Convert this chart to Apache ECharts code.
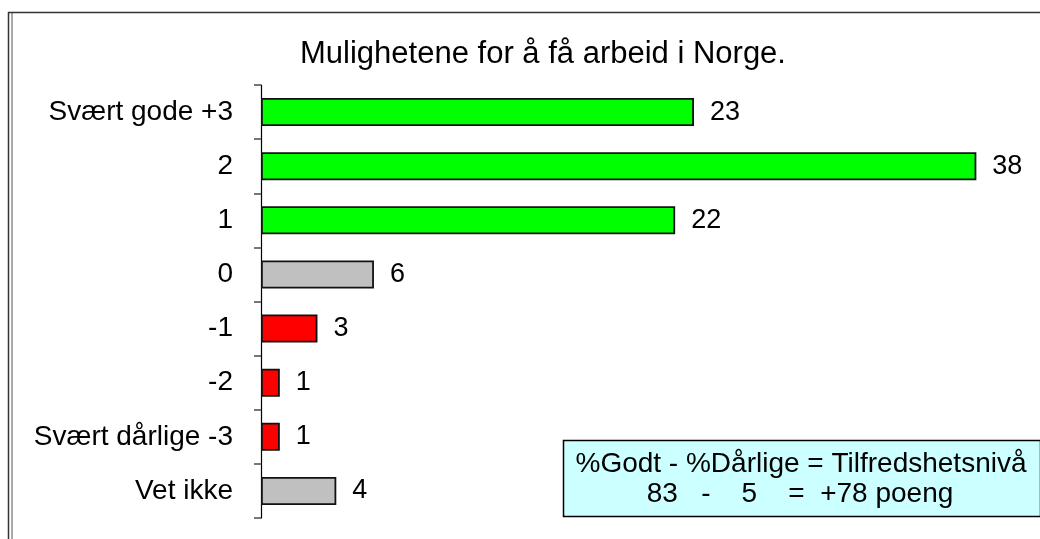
<!DOCTYPE html>
<html>
<head>
<meta charset="utf-8">
<script src="https://cdn.jsdelivr.net/npm/echarts@6/dist/echarts.min.js"></script>
<style>
html,body{margin:0;padding:0;background:#fff;}
#chart{width:1040px;height:539px;}
</style>
</head>
<body>
<div id="chart"></div>
<script>
var titleText = 'Mulighetene for å få arbeid i Norge.';
var categories = ['Svært gode +3', '2', '1', '0', '-1', '-2', 'Svært dårlige -3', 'Vet ikke'];
var values = [23, 38, 22, 6, 3, 1, 1, 4];
var groups = ['good', 'good', 'good', 'neutral', 'bad', 'bad', 'bad', 'neutral'];
var boxLine1 = '%Godt - %Dårlige = Tilfredshetsnivå';
var boxLine2 = '83   -    5    =  +78 poeng';

var groupColors = { good: '#00ff00', neutral: '#c0c0c0', bad: '#ff0000' };
var FONT = '"Liberation Sans", Arial, sans-serif';

var chart = echarts.init(document.getElementById('chart'), null, { renderer: 'canvas' });

var seriesData = values.map(function (v, i) {
  return { value: v, itemStyle: { color: groupColors[groups[i]] } };
});

chart.setOption({
  animation: false,
  backgroundColor: '#ffffff',
  grid: { left: 261, right: 26, top: 85, bottom: 21, containLabel: false },
  xAxis: { type: 'value', min: 0, max: 40, show: false },
  yAxis: {
    type: 'category',
    data: categories,
    inverse: true,
    axisLine: { show: true, lineStyle: { color: '#000', width: 1.2 } },
    axisTick: { show: true, length: 7, lineStyle: { color: '#777', width: 2 } },
    axisLabel: { margin: 28, color: '#000', fontSize: 28, fontFamily: FONT },
    splitLine: { show: false }
  },
  series: [{
    type: 'bar',
    data: seriesData,
    barWidth: 28,
    itemStyle: { borderColor: '#111', borderWidth: 1.8 },
    label: {
      show: true, position: 'right', distance: 16,
      color: '#000', fontSize: 27, fontFamily: FONT
    }
  }],
  graphic: [
    { type: 'rect', z: 0, silent: true,
      shape: { x: 8.5, y: 12.5, width: 1100, height: 600 },
      style: { fill: 'none', stroke: '#333', lineWidth: 1.5 } },
    { type: 'line', z: 0, silent: true,
      shape: { x1: 12, y1: 13, x2: 12, y2: 539 },
      style: { stroke: '#555', lineWidth: 1 } },
    { type: 'text', z: 10, x: 543, y: 54,
      style: { text: titleText, fill: '#000', font: '31px ' + FONT,
               textAlign: 'center', textVerticalAlign: 'middle' } },
    { type: 'rect', z: 10,
      shape: { x: 563.5, y: 440.5, width: 477, height: 76 },
      style: { fill: '#ccffff', stroke: '#000', lineWidth: 1.5 } },
    { type: 'text', z: 11, x: 801, y: 464,
      style: { text: boxLine1, fill: '#000', font: '28px ' + FONT,
               textAlign: 'center', textVerticalAlign: 'middle' } },
    { type: 'text', z: 11, x: 800, y: 494,
      style: { text: boxLine2, fill: '#000', font: '28px ' + FONT,
               textAlign: 'center', textVerticalAlign: 'middle' } }
  ]
});
</script>
</body>
</html>
